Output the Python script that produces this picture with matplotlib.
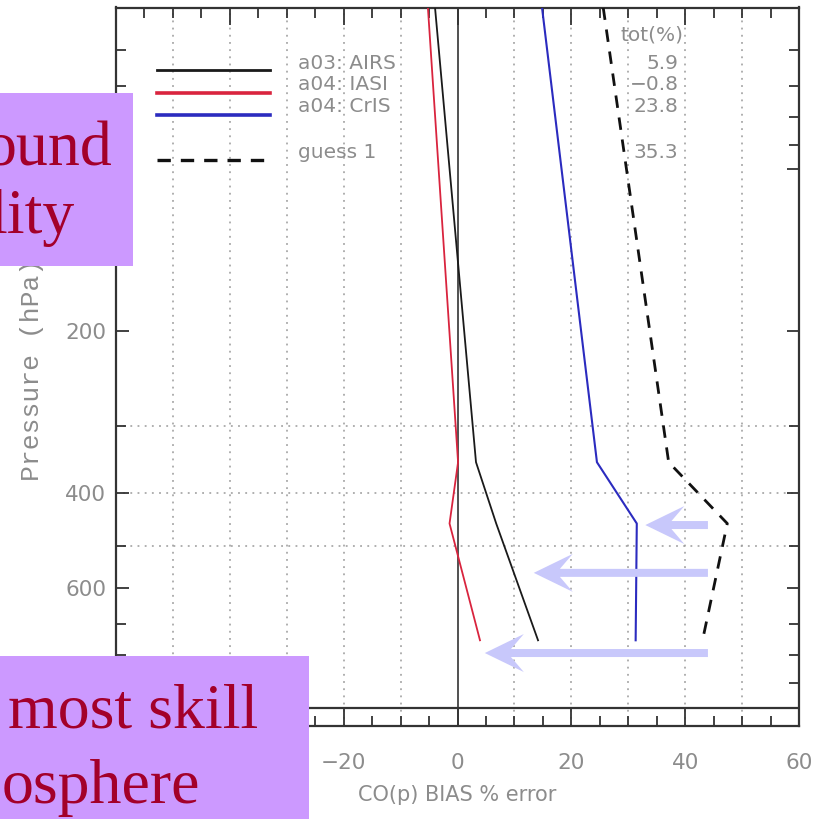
import matplotlib
matplotlib.use("Agg")
import matplotlib.pyplot as plt
from matplotlib.patches import Rectangle, FancyArrow
from matplotlib.transforms import IdentityTransform
from matplotlib.ticker import NullFormatter, FixedLocator

plt.rcParams['font.family'] = ['DejaVu Sans']

# ---------------- data ----------------
levels = [50, 350, 455, 750]                 # hPa
airs = [-3.95, 3.25, 6.8, 14.15]             # a03: AIRS
iasi = [-5.2, 0.1, -1.4, 3.95]               # a04: IASI
cris = [14.85, 24.5, 31.5, 31.3]             # a04: CrIS
guess = [25.6, 37.1, 47.4, 43.05]            # guess 1

series_labels = ["a03: AIRS", "a04: IASI", "a04: CrIS", "guess 1"]
tot_values = ["5.9", "\u22120.8", "23.8", "35.3"]

x_ticks = [-60, -40, -20, 0, 20, 40, 60]
y_ticks = [100, 200, 400, 600, 1000]
y_minor = [60, 70, 80, 90, 300, 500, 700, 800, 900]

# annotation arrows (pressure, tail %, tip %)
arrow_p = [458, 562, 792]
arrow_tail = [44.0, 44.0, 44.0]
arrow_tip = [33.0, 13.4, 4.8]

W, H = 827, 819
fig = plt.figure(figsize=(W / 100, H / 100), dpi=100)
fig.patch.set_facecolor('white')
ax = fig.add_axes([116 / W, 1 - 725.5 / H, 683 / W, 718 / H])
ax.set_yscale('log')
ax.set_xlim(-60, 60)
ax.set_ylim(1080, 50)

gray_txt = '#8c8c8c'
frame = '#333333'

for s in ax.spines.values():
    s.set_linewidth(1.6)
    s.set_color(frame)

# grid
for gx in range(-50, 51, 10):
    if gx == 0:
        continue
    ax.axvline(gx, color='#9a9a9a', lw=1.1, ls=(0, (1.2, 3.5)), zorder=1)
for gy in [300, 400, 500]:
    ax.axhline(gy, color='#9a9a9a', lw=1.1, ls=(0, (1.2, 3.5)), zorder=1)
ax.axvline(0, color=frame, lw=1.2, zorder=2)
ax.axhline(1000, color=frame, lw=1.6, zorder=2)

# ticks
ax.xaxis.set_major_locator(FixedLocator(x_ticks))
ax.xaxis.set_minor_locator(FixedLocator(list(range(-55, 60, 5))))
ax.set_xticklabels([f"{v}".replace('-', '\u2212') for v in x_ticks])
ax.yaxis.set_major_locator(FixedLocator(y_ticks))
ax.yaxis.set_minor_locator(FixedLocator(y_minor))
ax.set_yticklabels([str(v) for v in y_ticks])
ax.yaxis.set_minor_formatter(NullFormatter())
ax.tick_params(which='both', direction='in', top=True, right=True,
               color=frame, labelcolor=gray_txt, labelsize=15.5, width=1.3)
ax.tick_params(axis='x', which='major', length=12, pad=20)
ax.tick_params(axis='x', which='minor', length=7)
ax.tick_params(axis='y', which='major', length=9, pad=7)
ax.tick_params(axis='y', which='minor', length=7)

# profiles
ax.plot(airs, levels, color='#1a1a1a', lw=1.3, zorder=3)
ax.plot(iasi, levels, color='#d9243e', lw=1.3, zorder=3)
ax.plot(cris, levels, color='#2b2bbf', lw=1.5, zorder=3)
ax.plot(guess, levels, color='#111111', lw=2.0, dashes=(4.5, 3.5), zorder=3)

# legend (drawn inside the axes)
leg_styles = [dict(color='#1a1a1a', lw=2.0), dict(color='#d9243e', lw=2.6),
              dict(color='#2b2bbf', lw=2.6), dict(color='#111111', lw=2.4, dashes=(4, 3))]
leg_line_y = [0.9129, 0.8809, 0.8503, 0.7876]
leg_text_y = [0.9227, 0.8921, 0.8615, 0.7975]
for st, ly, ty, lab, tv in zip(leg_styles, leg_line_y, leg_text_y, series_labels, tot_values):
    ax.plot([0.0600, 0.2255], [ly, ly], transform=ax.transAxes, zorder=4, **st)
    ax.text(0.2672, ty, lab, transform=ax.transAxes, ha='left', va='center',
            fontsize=14.5, color=gray_txt, zorder=4)
    ax.text(0.8236, ty, tv, transform=ax.transAxes, ha='right', va='center',
            fontsize=14.5, color=gray_txt, zorder=4)
ax.text(0.7848, 0.9617, "tot(%)", transform=ax.transAxes, ha='center', va='center',
        fontsize=14.5, color=gray_txt, zorder=4)

# axis labels
ax.set_xlabel("CO(p) BIAS % error", fontsize=15, color=gray_txt, va='top')
ax.xaxis.set_label_coords(0.5, (725.5 - 785) / 718)
ax.set_ylabel("Pressure (hPa)", fontsize=19, color=gray_txt,
              family=['Liberation Mono', 'DejaVu Sans Mono'])
ax.yaxis.set_label_coords((44 - 116) / 683, (725.5 - 370) / 718)

# arrows (positioned from data coordinates)
fig.canvas.draw()
for p, xt, xh in zip(arrow_p, arrow_tail, arrow_tip):
    tx, ty = ax.transData.transform((xt, p))
    hx, hy = ax.transData.transform((xh, p))
    arr = FancyArrow(tx, ty, hx - tx, 0, width=8, head_width=38, head_length=39,
                     overhang=0.33, length_includes_head=True,
                     transform=IdentityTransform(), color='#c8c8fb', lw=0, zorder=6)
    fig.add_artist(arr)

# purple overlay boxes with text
box_col = '#cc99ff'
txt_col = '#a3002a'
fig.add_artist(Rectangle((0, 1 - 266 / H), 133 / W, 173 / H, transform=fig.transFigure,
                         facecolor=box_col, edgecolor='none', zorder=7))
fig.add_artist(Rectangle((0, 0), 309 / W, 163 / H, transform=fig.transFigure,
                         facecolor=box_col, edgecolor='none', zorder=7))
serif = ['Liberation Serif', 'DejaVu Serif']
fig.text(112 / W, 1 - 165 / H, "ound", ha='right', va='baseline', fontsize=46,
         color=txt_col, family=serif, zorder=8)
fig.text(75 / W, 1 - 233 / H, "lity", ha='right', va='baseline', fontsize=46,
         color=txt_col, family=serif, zorder=8)
fig.text(258 / W, 1 - 728 / H, "most skill", ha='right', va='baseline', fontsize=46,
         color=txt_col, family=serif, zorder=8)
fig.text(200 / W, 1 - 803 / H, "osphere", ha='right', va='baseline', fontsize=46,
         color=txt_col, family=serif, zorder=8)

fig.savefig("out.png", dpi=100)
